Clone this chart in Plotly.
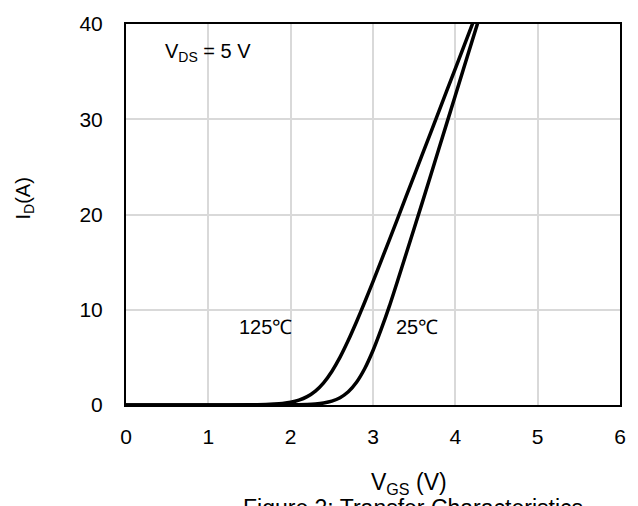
import plotly.graph_objects as go

# 125 °C transfer curve
vgs_125 = [0, 1.0, 1.5, 1.7, 1.8, 1.9, 2.0, 2.1, 2.2, 2.3, 2.4, 2.5, 2.6, 2.7, 2.8, 2.9, 3.0, 3.2, 3.4, 3.6, 3.8, 4.0, 4.2, 4.3]
id_125 = [0, 0.001, 0.016, 0.052, 0.093, 0.165, 0.29, 0.51, 0.88, 1.46, 2.33, 3.52, 5.02, 6.79, 8.74, 10.81, 12.96, 17.37, 21.84, 26.33, 30.83, 35.32, 39.82, 42.07]

# 25 °C transfer curve
vgs_25 = [0, 1.0, 2.0, 2.2, 2.3, 2.4, 2.5, 2.6, 2.7, 2.8, 2.9, 3.0, 3.1, 3.2, 3.3, 3.4, 3.6, 3.8, 4.0, 4.2, 4.3]
id_25 = [0, 0, 0.016, 0.059, 0.113, 0.218, 0.41, 0.77, 1.39, 2.39, 3.83, 5.72, 7.96, 10.4, 13.07, 15.8, 21.3, 26.9, 32.5, 38.1, 40.9]

x_ticks = [0, 1, 2, 3, 4, 5, 6]
y_ticks = [0, 10, 20, 30, 40]

FONT = "Liberation Sans, Arial, sans-serif"

fig = go.Figure()
fig.add_trace(go.Scatter(x=vgs_125, y=id_125, mode="lines",
                         line=dict(color="black", width=3.5, shape="spline", smoothing=0.5),
                         showlegend=False))
fig.add_trace(go.Scatter(x=vgs_25, y=id_25, mode="lines",
                         line=dict(color="black", width=3.5, shape="spline", smoothing=0.5),
                         showlegend=False))

fig.update_layout(
    width=638, height=506,
    margin=dict(l=126, r=16, t=14, b=101),
    paper_bgcolor="white", plot_bgcolor="white",
    font=dict(family=FONT, size=21, color="black"),
    xaxis=dict(range=[0, 6], tickvals=x_ticks, ticktext=[str(v) for v in x_ticks],
               showgrid=True, gridcolor="#d9d9d9", gridwidth=2,
               showline=True, linecolor="black", linewidth=2, mirror=True,
               zeroline=False, ticks="", ticklabelstandoff=12,
               tickfont=dict(size=21)),
    yaxis=dict(range=[0, 40], tickvals=y_ticks, ticktext=[str(v) for v in y_ticks],
               showgrid=True, gridcolor="#d9d9d9", gridwidth=2,
               showline=True, linecolor="black", linewidth=2, mirror=True,
               zeroline=False, ticks="", ticklabelstandoff=17,
               tickfont=dict(size=21)),
    annotations=[
        dict(text="V<sub>DS</sub> = 5 V", x=0.45, y=37.0, xref="x", yref="y",
             xanchor="left", yanchor="middle", showarrow=False, font=dict(size=20)),
        dict(text="125℃", x=1.69, y=8.18, xref="x", yref="y",
             xanchor="center", yanchor="middle", showarrow=False, font=dict(size=20)),
        dict(text="25℃", x=3.53, y=8.18, xref="x", yref="y",
             xanchor="center", yanchor="middle", showarrow=False, font=dict(size=20)),
        dict(text="I<sub>D</sub>(A)", textangle=-90, x=0, y=0.5, xref="paper", yref="paper",
             xshift=-102, yshift=16, xanchor="center", yanchor="middle", showarrow=False,
             font=dict(size=20)),
        dict(text="V<sub>GS</sub> (V)", x=0.5726, y=0, xref="paper", yref="paper",
             yshift=-78, xanchor="center", yanchor="middle", showarrow=False, font=dict(size=23)),
        dict(text="Figure 2: Transfer Characteristics", x=0.5806, y=0, xref="paper", yref="paper",
             yshift=-88, xanchor="center", yanchor="top", showarrow=False, font=dict(size=23)),
    ],
)

fig.write_html("out.html")
